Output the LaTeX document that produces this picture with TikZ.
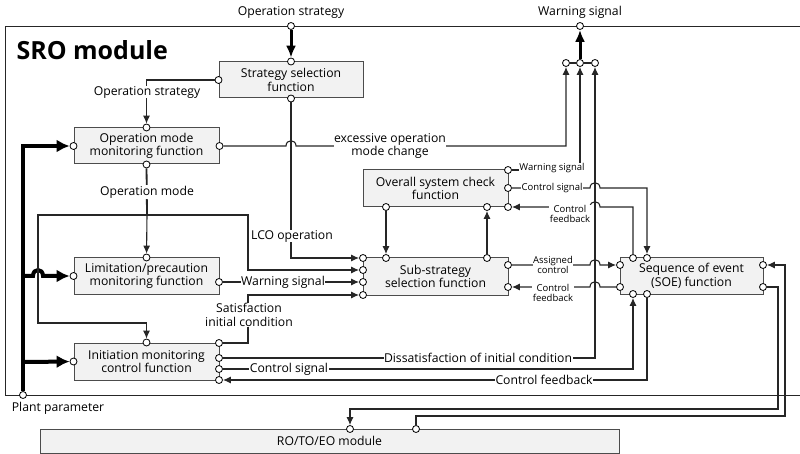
\documentclass[tikz,border=0pt]{standalone}
\usepackage{fontspec}
\setmainfont{Open Sans}
\usetikzlibrary{arrows.meta}

\begin{document}
\begin{tikzpicture}[x=1pt,y=-1pt,font=\fontsize{12.2}{13.5}\selectfont,
  wire/.style={draw=black!85,line width=1.1pt},
  arr/.style={wire,-{Latex[length=8pt,width=7pt]}},
  bigarr/.style={draw=black,line width=3pt,-{Latex[length=12pt,width=10pt]}},
  pparr/.style={draw=black,line width=4pt,-{Latex[length=13pt,width=13pt]}},
  box/.style={draw=black!70,fill=black!5,line width=1pt,align=center,inner sep=0pt},
  port/.style={circle,draw=black,fill=white,line width=0.8pt,inner sep=0pt,minimum size=7pt},
  lbl/.style={fill=white,inner sep=0.5pt,align=center},
  slbl/.style={fill=white,inner sep=0.5pt,align=center,font=\fontsize{9.5}{10.5}\selectfont}]
\useasboundingbox (0,0) rectangle (800,454);

% module frame
\draw[draw=black!85,line width=0.9pt] (800,26) -| (5,395) -- (800,395);
\node[anchor=west,font=\fontsize{25}{29}\selectfont\bfseries] (sro) at (13,50) {SRO module};

% function blocks
\node[box,minimum width=144pt,minimum height=36pt] (strat) at (291,80) {Strategy selection\\function};
\node[box,minimum width=145pt,minimum height=36pt] (opmode) at (146.5,146) {Operation mode\\monitoring function};
\node[box,minimum width=145pt,minimum height=36pt] (limit) at (146.5,276) {Limitation/precaution\\monitoring function};
\node[box,minimum width=145pt,minimum height=37pt] (init) at (146.5,361.5) {Initiation monitoring\\control function};
\node[box,minimum width=145pt,minimum height=37pt] (overall) at (435.5,188.5) {Overall system check\\function};
\node[box,minimum width=145pt,minimum height=37pt] (sub) at (435.5,276.5) {Sub-strategy\\selection function};
\node[box,minimum width=143pt,minimum height=36pt] (soe) at (691.5,276) {Sequence of event\\(SOE) function};
\node[box,minimum width=579pt,minimum height=24pt] (ro) at (329.5,441) {RO/TO/EO module};

% ports
\node[port] (topos) at (291,26) {};
\node[port] (topws) at (580,26) {};
\node[port] (pp) at (23,395) {};
\node[port] (stn) at (strat.north) {};
\node[port] (sts) at (strat.south) {};
\node[port] (stw) at (strat.west) {};
\node[port] (omn) at (opmode.north) {};
\node[port] (oms) at (opmode.south) {};
\node[port] (omw) at (opmode.west) {};
\node[port] (ome) at (opmode.east) {};
\node[port] (lmn) at (limit.north) {};
\node[port] (lmw) at (limit.west) {};
\node[port] (lme) at (219,282) {};
\node[port] (inn) at (init.north) {};
\node[port] (inw) at (init.west) {};
\foreach \i/\y in {1/343,2/358,3/369,4/380}{\node[port] (ine\i) at (219,\y) {};}
\foreach \i/\y in {1/258,2/270,3/282,4/295}{\node[port] (sbw\i) at (363,\y) {};}
\node[port] (sbn1) at (386,258) {};
\node[port] (sbn2) at (487,258) {};
\node[port] (sbe1) at (508,265) {};
\node[port] (sbe2) at (508,287) {};
\node[port] (ovs1) at (386,207) {};
\node[port] (ovs2) at (487,207) {};
\foreach \i/\y in {1/170,2/188,3/207}{\node[port] (ove\i) at (508,\y) {};}
\node[port] (sew1) at (620,265) {};
\node[port] (sew2) at (620,287) {};
\node[port] (sen1) at (633,258) {};
\node[port] (sen2) at (647,258) {};
\node[port] (ses1) at (633,294) {};
\node[port] (ses2) at (647,294) {};
\node[port] (see1) at (763,265) {};
\node[port] (see2) at (763,287) {};
\foreach \i/\x in {1/566,2/580,3/595}{\node[port] (ws\i) at (\x,63) {};}
\node[port] (ron1) at (350,429) {};
\node[port] (ron2) at (416,429) {};
\coordinate (jn) at (147,215);

% plant parameter bus
\draw[pparr] (pp) -- (23,146) -- (omw);
\draw[pparr] (23,276) -- (33,276) .. controls (33,268) and (43,268) .. (43,276) -- (lmw);
\draw[pparr] (23,362) -- (inw);

% strategy path
\draw[bigarr] (topos) -- (stn);
\draw[arr] (stw) -| (omn);
\draw[arr] (sts) |- (sbw1);
\draw[wire,line width=1.8pt] (oms) -- (jn);
\draw[arr] (jn) -- (lmn);
\draw[arr] (jn) -| (38,323) -| (inn);
\draw[arr] (jn) -| (248,270) -- (sbw2);
\draw[arr] (lme) -- (sbw3);
\draw[arr] (ine1) -| (248,295) -- (sbw4);

% warning outputs
\draw[arr] (ome) -- (286,146) .. controls (286,139) and (296,139) .. (296,146) -| (ws1);
\draw[arr] (ove1) -| (ws2);
\draw[arr] (ine2) -| (ws3);
\draw[wire,line width=1.5pt] (ws1) -- (ws2) -- (ws3);
\draw[bigarr] (ws2) -- (topws);

% check block and SOE links
\draw[arr] (ovs1) -- (sbn1);
\draw[arr] (sbn2) -- (ovs2);
\draw[arr] (ove2) -- (590,188) .. controls (590,181) and (600,181) .. (600,188) -| (sen2);
\draw[arr] (sen1) |- (600,207) .. controls (600,200) and (590,200) .. (590,207) -- (ove3);
\draw[arr] (sbe1) -- (590,265) .. controls (590,258) and (600,258) .. (600,265) -- (sew1);
\draw[arr] (sew2) -- (600,287) .. controls (600,280) and (590,280) .. (590,287) -- (sbe2);
\draw[arr] (ine3) -| (ses1);
\draw[arr] (ses2) |- (ine4);

% RO/TO/EO loop
\draw[arr] (see2) -- (778,287) |- (350,409) -- (ron1);
\draw[arr] (ron2) |- (785,416) |- (see1);

% signal labels
\node (los) at (291,12) {Operation strategy};
\node (lws) at (580,12) {Warning signal};
\node (lpp) at (58,408) {Plant parameter};
\node[lbl] (l1) at (147,92) {Operation strategy};
\node[lbl] (l2) at (147,192) {Operation mode};
\node[lbl] (l3) at (292,236) {LCO operation};
\node[lbl] (l4) at (390,146) {excessive operation\\mode change};
\node[lbl] (l5) at (283,282) {Warning signal};
\node[lbl] (l6) at (249,315) {Satisfaction\\initial condition};
\node[lbl] (l7) at (478,358) {Dissatisfaction of initial condition};
\node[lbl] (l8) at (289,369) {Control signal};
\node[lbl] (l9) at (544,380) {Control feedback};
\node[slbl] (s1) at (552,168) {Warning signal};
\node[slbl] (s2) at (552,188) {Control signal};
\node[slbl] (s3) at (570,214) {Control\\feedback};
\node[slbl] (s4) at (553,265) {Assigned\\control};
\node[slbl] (s5) at (553,293) {Control\\feedback};
\end{tikzpicture}
\end{document}
